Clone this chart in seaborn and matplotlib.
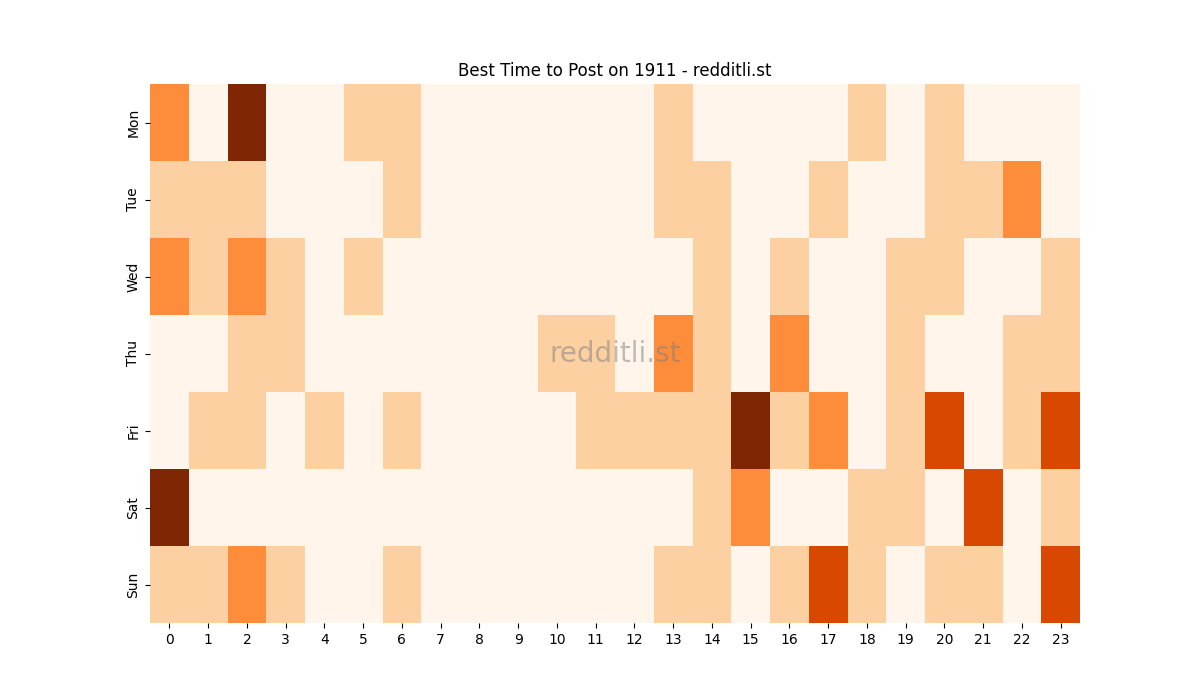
import numpy as np
import pandas as pd
import seaborn as sns
import matplotlib
matplotlib.use('Agg')
import matplotlib.pyplot as plt

days = ['Mon', 'Tue', 'Wed', 'Thu', 'Fri', 'Sat', 'Sun']
hours = list(range(24))

mon = [2, 0, 4, 0, 0, 1, 1, 0, 0, 0, 0, 0, 0, 1, 0, 0, 0, 0, 1, 0, 1, 0, 0, 0]
tue = [1, 1, 1, 0, 0, 0, 1, 0, 0, 0, 0, 0, 0, 1, 1, 0, 0, 1, 0, 0, 1, 1, 2, 0]
wed = [2, 1, 2, 1, 0, 1, 0, 0, 0, 0, 0, 0, 0, 0, 1, 0, 1, 0, 0, 1, 1, 0, 0, 1]
thu = [0, 0, 1, 1, 0, 0, 0, 0, 0, 0, 1, 1, 0, 2, 1, 0, 2, 0, 0, 1, 0, 0, 1, 1]
fri = [0, 1, 1, 0, 1, 0, 1, 0, 0, 0, 0, 1, 1, 1, 1, 4, 1, 2, 0, 1, 3, 0, 1, 3]
sat = [4, 0, 0, 0, 0, 0, 0, 0, 0, 0, 0, 0, 0, 0, 1, 2, 0, 0, 1, 1, 0, 3, 0, 1]
sun = [1, 1, 2, 1, 0, 0, 1, 0, 0, 0, 0, 0, 0, 1, 1, 0, 1, 3, 1, 0, 1, 1, 0, 3]

posts = pd.DataFrame([mon, tue, wed, thu, fri, sat, sun], index=days, columns=hours)

fig, ax = plt.subplots(figsize=(12, 7), dpi=100)
sns.heatmap(posts, cmap='Oranges', vmin=0, vmax=4, cbar=False, ax=ax)
ax.set_title('Best Time to Post on 1911 - redditli.st')
ax.set_xlabel('')
ax.set_ylabel('')
ax.text(0.5, 0.5, 'redditli.st', transform=ax.transAxes, ha='center', va='center',
        fontsize=20, color='gray', alpha=0.5)

plt.savefig('out.png')
plt.close()
